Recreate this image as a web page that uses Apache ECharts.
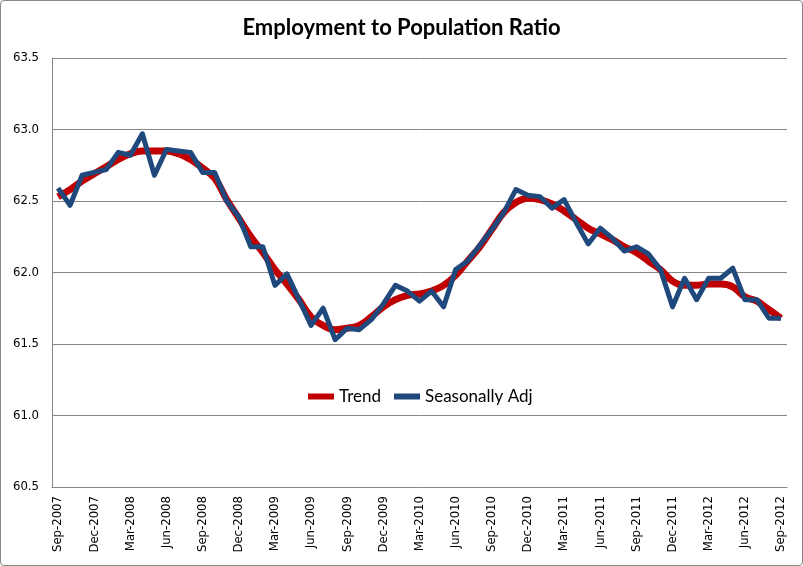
<!DOCTYPE html>
<html>
<head>
<meta charset="utf-8">
<script src="https://cdn.jsdelivr.net/npm/echarts@6/dist/echarts.min.js"></script>
<style>
  html, body { margin: 0; padding: 0; background: #ffffff; }
  #chart {
    width: 801px;
    height: 564px;
    border: 1px solid #878787;
    border-radius: 4px;
  }
</style>
</head>
<body>
<div id="chart"></div>
<script>
var months = [
  'Sep-2007', 'Oct-2007', 'Nov-2007', 'Dec-2007', 'Jan-2008', 'Feb-2008', 'Mar-2008', 'Apr-2008',
  'May-2008', 'Jun-2008', 'Jul-2008', 'Aug-2008', 'Sep-2008', 'Oct-2008', 'Nov-2008', 'Dec-2008',
  'Jan-2009', 'Feb-2009', 'Mar-2009', 'Apr-2009', 'May-2009', 'Jun-2009', 'Jul-2009', 'Aug-2009',
  'Sep-2009', 'Oct-2009', 'Nov-2009', 'Dec-2009', 'Jan-2010', 'Feb-2010', 'Mar-2010', 'Apr-2010',
  'May-2010', 'Jun-2010', 'Jul-2010', 'Aug-2010', 'Sep-2010', 'Oct-2010', 'Nov-2010', 'Dec-2010',
  'Jan-2011', 'Feb-2011', 'Mar-2011', 'Apr-2011', 'May-2011', 'Jun-2011', 'Jul-2011', 'Aug-2011',
  'Sep-2011', 'Oct-2011', 'Nov-2011', 'Dec-2011', 'Jan-2012', 'Feb-2012', 'Mar-2012', 'Apr-2012',
  'May-2012', 'Jun-2012', 'Jul-2012', 'Aug-2012', 'Sep-2012'
]

// trend (smooth red)
var trend = [
  62.53, 62.58, 62.64, 62.69, 62.74, 62.79, 62.83, 62.85, 62.85, 62.85,
  62.83, 62.79, 62.73, 62.66, 62.51, 62.38, 62.25, 62.14, 62.02, 61.92,
  61.81, 61.69, 61.63, 61.60, 61.61, 61.63, 61.69, 61.76, 61.81, 61.84,
  61.85, 61.87, 61.91, 61.98, 62.08, 62.18, 62.30, 62.42, 62.49, 62.52,
  62.51, 62.48, 62.43, 62.37, 62.31, 62.27, 62.23, 62.18, 62.14, 62.08,
  62.02, 61.94, 61.91, 61.91, 61.92, 61.92, 61.90, 61.83, 61.80, 61.74,
  61.68
]

// seasonally adjusted (blue)
var seasAdj = [
  62.59, 62.47, 62.68, 62.70, 62.72, 62.84, 62.82, 62.97, 62.68, 62.86,
  62.85, 62.84, 62.70, 62.70, 62.50, 62.39, 62.18, 62.18, 61.91, 61.99,
  61.81, 61.63, 61.75, 61.53, 61.61, 61.60, 61.67, 61.78, 61.91, 61.87,
  61.80, 61.87, 61.76, 62.02, 62.08, 62.19, 62.30, 62.42, 62.58, 62.54,
  62.53, 62.45, 62.51, 62.35, 62.20, 62.31, 62.24, 62.15, 62.18, 62.13,
  62.02, 61.76, 61.96, 61.81, 61.96, 61.96, 62.03, 61.81, 61.81, 61.68,
  61.68
]

var yTicks = { min: 60.5, max: 63.5, step: 0.5 }

var myChart = echarts.init(document.getElementById('chart'))
var option = {
  animation: false,
  title: {
    text: 'Employment to Population Ratio',
    left: 'center',
    top: 11,
    textStyle: {
      fontFamily: 'Lato',
      fontSize: 22,
      fontWeight: 'bold',
      color: '#000000'
    }
  },
  legend: {
    left: 302,
    top: 382,
    icon: 'rect',
    itemWidth: 26,
    itemHeight: 6,
    itemGap: 13,
    textStyle: {
      fontFamily: 'Lato',
      fontSize: 17,
      color: '#000000'
    },
    data: ['Trend', 'Seasonally Adj']
  },
  grid: {
    left: 51,
    right: 15,
    top: 57,
    bottom: 78
  },
  xAxis: {
    type: 'category',
    data: months,
    boundaryGap: true,
    axisLine: { lineStyle: { color: '#868686', width: 1 } },
    axisTick: {
      interval: 2,
      length: 5,
      lineStyle: { color: '#868686' }
    },
    axisLabel: {
      interval: 2,
      rotate: 90,
      margin: 9,
      fontFamily: 'DejaVu Sans Condensed',
      fontSize: 13,
      color: '#000000'
    }
  },
  yAxis: {
    type: 'value',
    min: yTicks.min,
    max: yTicks.max,
    interval: yTicks.step,
    axisLine: { show: true, lineStyle: { color: '#868686' } },
    axisTick: { show: false },
    axisLabel: {
      margin: 13,
      fontFamily: 'DejaVu Sans Condensed',
      fontSize: 13,
      color: '#000000',
      formatter: function (v) { return v.toFixed(1) }
    },
    splitLine: { lineStyle: { color: '#868686', width: 1 } }
  },
  series: [
    {
      name: 'Trend',
      type: 'line',
      data: trend,
      smooth: 0.4,
      symbol: 'none',
      itemStyle: { color: '#C00000' },
      lineStyle: { color: '#C00000', width: 7 },
      z: 2
    },
    {
      name: 'Seasonally Adj',
      type: 'line',
      data: seasAdj,
      symbol: 'none',
      itemStyle: { color: '#1F497D' },
      lineStyle: { color: '#1F497D', width: 5, join: 'round' },
      z: 3
    }
  ]
}
myChart.setOption(option)
</script>
</body>
</html>
